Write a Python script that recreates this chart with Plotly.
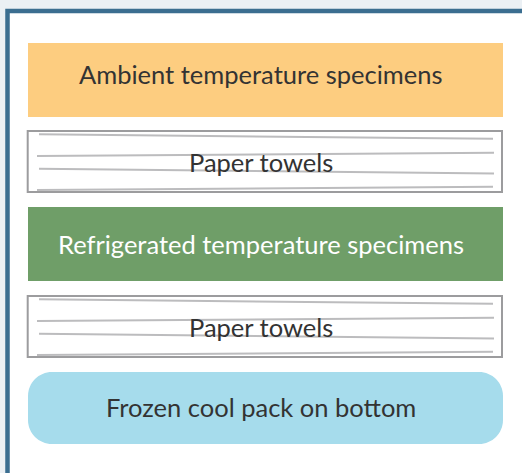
import plotly.graph_objects as go

# ---- content ----
layer_labels = [
    "Ambient temperature specimens",
    "Paper towels",
    "Refrigerated temperature specimens",
    "Paper towels",
    "Frozen cool pack on bottom",
]
layer_kinds = ["specimen", "towel", "specimen", "towel", "coolpack"]

# ---- layout constants (pixel space) ----
W, H = 522, 473
layer_tops = [43, 130, 207, 295, 372]
layer_heights = [74, 63, 74, 63, 72]
label_dy = [-6, 0, 0, 0, -1.5]
box_x0, box_x1 = 28, 503
# towel line offsets from box top: (left y, right y)
towel_lines = [(4.3, 8.8), (26.0, 22.7), (38.7, 43.5), (60.0, 56.7)]
towel_line_x = [(39, 493), (37, 494), (39, 494), (37, 493)]

styles = {
    0: dict(fill="#fdcd80", text="#333333"),
    2: dict(fill="#6f9e68", text="#ffffff"),
    4: dict(fill="#a6dcec", text="#333333"),
}

shapes = []
annotations = []

# frame
shapes.append(dict(type="rect", xref="x", yref="y", x0=7.5, y0=11, x1=W + 20, y1=H + 20,
                   line=dict(color="#3b6e90", width=4.5), fillcolor="#ffffff", layer="below"))

for i, (lab, kind) in enumerate(zip(layer_labels, layer_kinds)):
    y0 = layer_tops[i]
    y1 = y0 + layer_heights[i]
    cy = (y0 + y1) / 2 + label_dy[i]
    if kind == "specimen":
        shapes.append(dict(type="rect", xref="x", yref="y", x0=box_x0, x1=box_x1, y0=y0, y1=y1,
                           line=dict(width=0), fillcolor=styles[i]["fill"]))
        tc = styles[i]["text"]
    elif kind == "towel":
        shapes.append(dict(type="rect", xref="x", yref="y", x0=box_x0 - 0.3, x1=box_x1 - 1, y0=y0 + 1, y1=y1 - 1,
                           line=dict(color="#9c9c9e", width=2), fillcolor="#ffffff"))
        for (ly0, ly1), (lx0, lx1) in zip(towel_lines, towel_line_x):
            shapes.append(dict(type="line", xref="x", yref="y", x0=lx0, x1=lx1, y0=y0 + ly0, y1=y0 + ly1,
                               line=dict(color="#bcbcbe", width=2)))
        tc = "#333333"
    else:
        r = 24
        k = 0.5523 * r
        x0, x1 = box_x0, box_x1
        p = (f"M {x0+r},{y0} L {x1-r},{y0} C {x1-r+k},{y0} {x1},{y0+r-k} {x1},{y0+r} "
             f"L {x1},{y1-r} C {x1},{y1-r+k} {x1-r+k},{y1} {x1-r},{y1} "
             f"L {x0+r},{y1} C {x0+r-k},{y1} {x0},{y1-r+k} {x0},{y1-r} "
             f"L {x0},{y0+r} C {x0},{y0+r-k} {x0+r-k},{y0} {x0+r},{y0} Z")
        shapes.append(dict(type="path", xref="x", yref="y", path=p,
                           line=dict(width=0), fillcolor=styles[i]["fill"]))
        tc = styles[i]["text"]
    annotations.append(dict(x=(box_x0 + box_x1) / 2 - 4.5, y=cy, xref="x", yref="y", text=lab,
                            showarrow=False, font=dict(family="Lato", size=25.5, color=tc),
                            xanchor="center", yanchor="middle"))

fig = go.Figure()
fig.update_layout(
    width=W, height=H,
    margin=dict(l=0, r=0, t=0, b=0),
    paper_bgcolor="#ebf0f4", plot_bgcolor="#ebf0f4",
    xaxis=dict(range=[0, W], visible=False, fixedrange=True),
    yaxis=dict(range=[H, 0], visible=False, fixedrange=True),
    shapes=shapes, annotations=annotations, showlegend=False,
)
fig.write_html("out.html", config=dict(displayModeBar=False),
               post_script="document.body.style.margin='0';document.body.style.overflow='hidden';")
